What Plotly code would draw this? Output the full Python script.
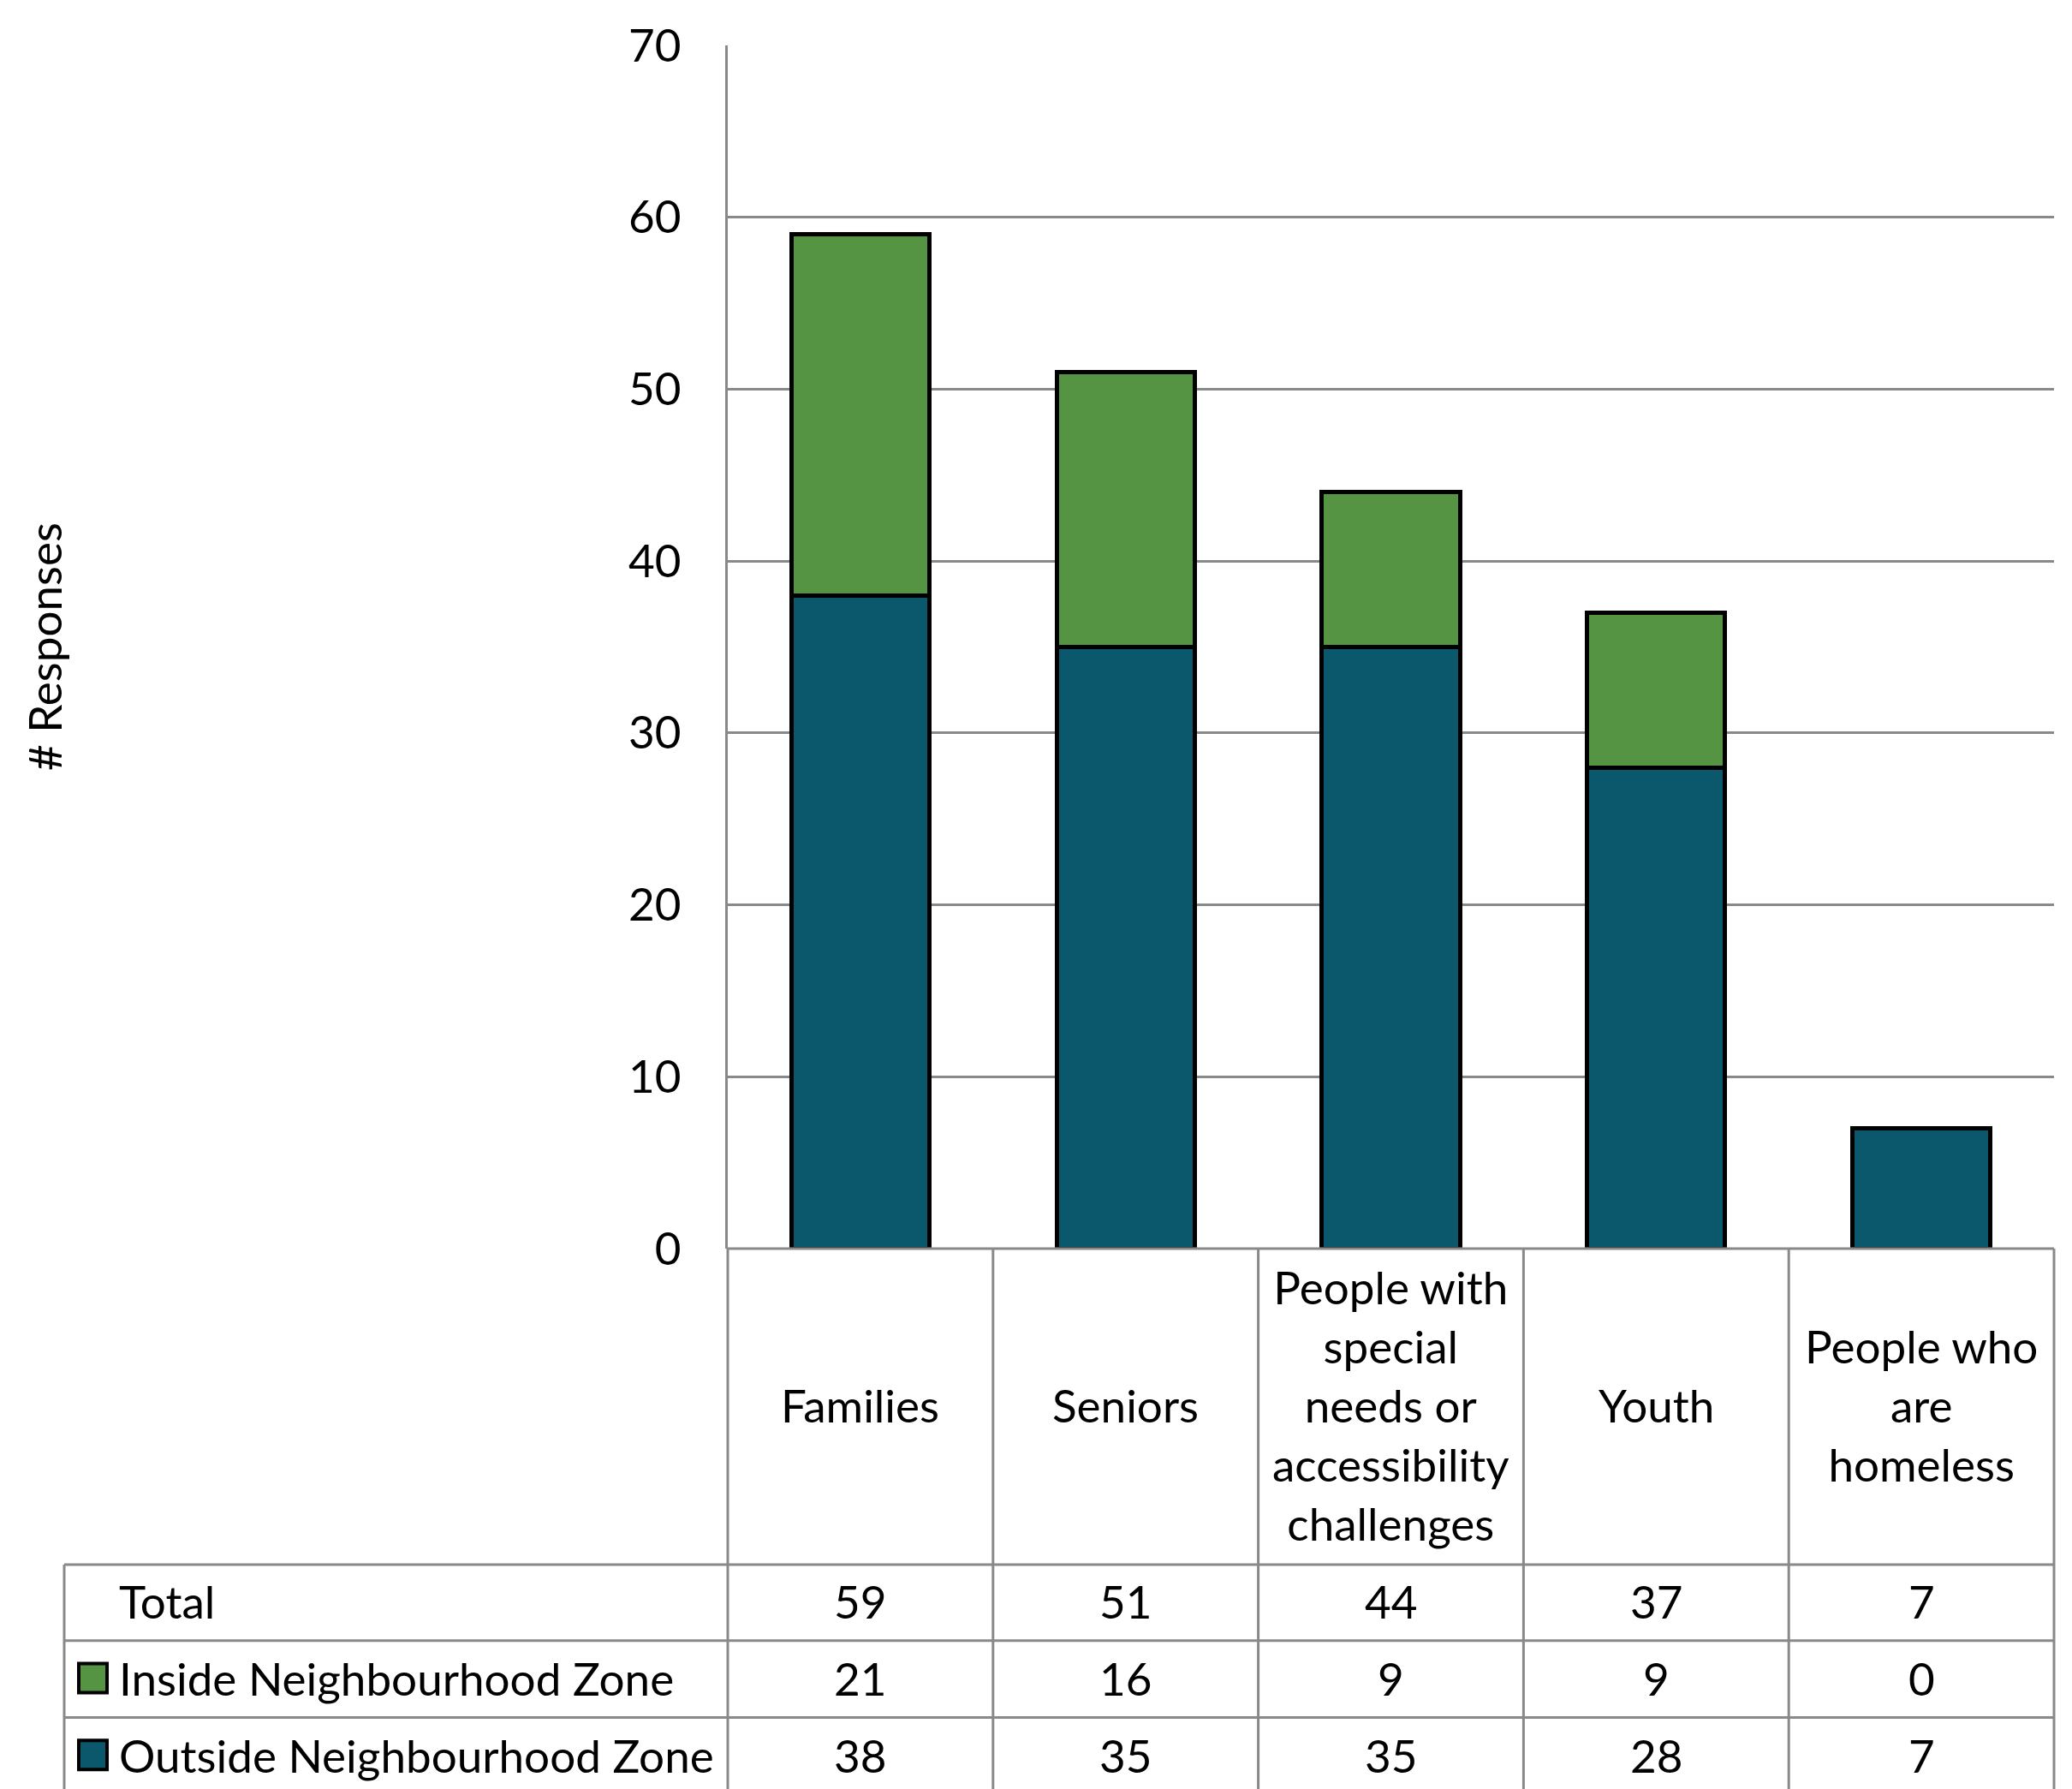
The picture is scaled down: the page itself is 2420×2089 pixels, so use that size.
import plotly.graph_objects as go

# ---- data ----
categories = ["Families", "Seniors", "People with special needs or accessibility challenges", "Youth", "People who are homeless"]
category_labels = ["Families", "Seniors", "People with<br>special<br>needs or<br>accessibility<br>challenges", "Youth", "People who<br>are<br>homeless"]
inside_zone = [21, 16, 9, 9, 0]
outside_zone = [38, 35, 35, 28, 7]
totals = [59, 51, 44, 37, 7]
series_names = ["Inside Neighbourhood Zone", "Outside Neighbourhood Zone"]
y_ticks = [0, 10, 20, 30, 40, 50, 60, 70]

# ---- style / geometry ----
OFF = 8                      # page body margin compensation
W, H = 2420, 2089
PL, PR, PT, PB = 850 - OFF, 2399 - OFF, 49 - OFF, 1458 - OFF   # plot area in pixels (figure coords)
GREEN = "#559442"
TEAL = "#0B586C"
GRID = "#898989"
FONT = "Lato"
FS = 53

def px(xp):
    # xp given in screenshot pixels
    return (xp - OFF - PL) / (PR - PL)

def py(yp):
    return (PB - (yp - OFF)) / (PB - PT)

fig = go.Figure()
fig.add_trace(go.Bar(x=categories, y=outside_zone, name=series_names[1],
                     marker=dict(color=TEAL, line=dict(color="black", width=5)), width=0.52))
fig.add_trace(go.Bar(x=categories, y=inside_zone, name=series_names[0],
                     marker=dict(color=GREEN, line=dict(color="black", width=5)), width=0.52))

shapes = []
line = dict(color=GRID, width=3)
# table horizontal lines
shapes.append(dict(type="line", xref="paper", yref="paper", x0=0, x1=1, y0=0, y1=0, line=line))
for yp in [1828, 1917, 2007]:
    shapes.append(dict(type="line", xref="paper", yref="paper", x0=px(75), x1=1, y0=py(yp), y1=py(yp), line=line))
# table vertical lines
shapes.append(dict(type="line", xref="paper", yref="paper", x0=px(75), x1=px(75), y0=py(1828), y1=py(2110), line=line))
n = len(categories)
for i in range(n + 1):
    xf = i / n
    shapes.append(dict(type="line", xref="paper", yref="paper", x0=xf, x1=xf, y0=0, y1=py(2110), line=line))

annotations = []
# category header
for c, lab in zip(categories, category_labels):
    annotations.append(dict(x=c, xref="x", y=py(1641), yref="paper", text=lab, showarrow=False,
                            font=dict(family=FONT, size=FS, color="black"), align="center",
                            xanchor="center", yanchor="middle"))
row_y = [1871, 1961, 2051]
row_names = ["Total", series_names[0], series_names[1]]
row_vals = [totals, inside_zone, outside_zone]
key_colors = [None, GREEN, TEAL]
for ry, rn, rv, kc in zip(row_y, row_names, row_vals, key_colors):
    annotations.append(dict(x=px(137), xref="paper", y=py(ry), yref="paper", text=rn, showarrow=False,
                            font=dict(family=FONT, size=FS, color="black"), xanchor="left", yanchor="middle"))
    if kc:
        shapes.append(dict(type="rect", xref="paper", yref="paper", x0=px(92), x1=px(125),
                           y0=py(ry - 17), y1=py(ry + 17), fillcolor=kc, line=dict(color="black", width=4)))
    for c, v in zip(categories, rv):
        annotations.append(dict(x=c, xref="x", y=py(ry), yref="paper", text=str(v), showarrow=False,
                                font=dict(family=FONT, size=FS, color="black"), xanchor="center", yanchor="middle"))
# y axis title
annotations.append(dict(x=px(51), xref="paper", y=py(753), yref="paper", text="# Responses", textangle=-90,
                        showarrow=False, font=dict(family=FONT, size=FS, color="black"),
                        xanchor="center", yanchor="middle"))

fig.update_layout(
    width=W, height=H, autosize=False,
    margin=dict(l=PL, r=W - PR, t=PT, b=H - PB, pad=0),
    barmode="stack", showlegend=False,
    plot_bgcolor="white", paper_bgcolor="white",
    font=dict(family=FONT, size=FS, color="black"),
    xaxis=dict(range=[-0.5, 4.5], showticklabels=False, showgrid=False, zeroline=False, showline=False, ticks=""),
    yaxis=dict(range=[0, 70], tickvals=y_ticks, showgrid=True, gridcolor=GRID, gridwidth=3,
               zeroline=False, showline=True, linecolor=GRID, linewidth=3, ticks="",
               ticklabelstandoff=41, tickfont=dict(family=FONT, size=FS, color="black")),
    shapes=shapes, annotations=annotations,
)

fig.write_html("out.html")
